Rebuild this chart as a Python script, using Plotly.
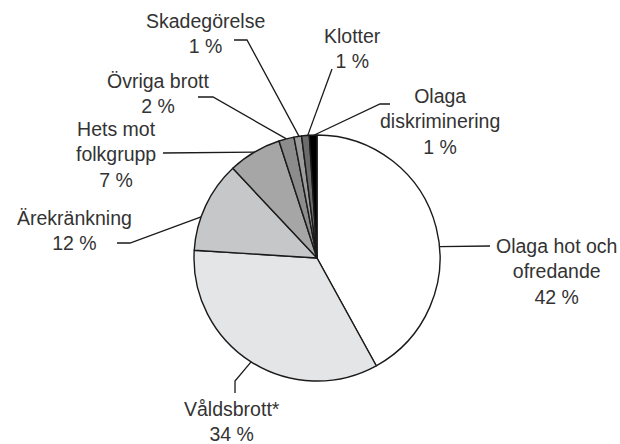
import math
import plotly.graph_objects as go

# ---- data ----
categories = ["Olaga hot och ofredande", "Våldsbrott*", "Ärekränkning",
              "Hets mot folkgrupp", "Övriga brott", "Skadegörelse",
              "Klotter", "Olaga diskriminering"]
values = [42, 34, 12, 7, 2, 1, 1, 1]
display_names = ["Olaga hot och<br>ofredande", "Våldsbrott*", "Ärekränkning",
                 "Hets mot<br>folkgrupp", "Övriga brott", "Skadegörelse",
                 "Klotter", "Olaga<br>diskriminering"]

# ---- styles / layout ----
colors = ["#ffffff", "#e4e5e6", "#c6c7c8", "#a6a6a6", "#8c8c8c",
          "#9c9c9c", "#6c6c6c", "#000000"]
W, H = 620, 444
CX, CY, R = 317, 258, 123
FONT = dict(family="Liberation Sans, Arial, sans-serif", size=19.5, color="#333333")
LINE_COLOR = "#1a1a1a"

# label block centre (x, y) in pixels, leader path points near label, fraction in slice
label_pos = [(556, 271), (232, 421), (74, 230), (116, 154), (158, 93),
             (205, 33), (352, 48), (440, 121)]
leader_pts = [[(490, 246)],
              [(235, 393), (235, 381)],
              [(117, 243), (130, 243)],
              [(163, 153)],
              [(198, 97), (213, 97)],
              [(234, 40), (247, 40)],
              [(332, 69)],
              [(390, 104), (380, 104)]]
slice_frac = [0.56, 0.5, 0.37, 0.5, 0.5, 0.67, 0.8, 0.65]

fig = go.Figure()
fig.add_trace(go.Pie(
    labels=categories, values=values, sort=False, direction="clockwise",
    rotation=0, textinfo="none", hoverinfo="label+percent",
    marker=dict(colors=colors, line=dict(color=LINE_COLOR, width=1.4)),
    domain=dict(x=[(CX - R) / W, (CX + R) / W],
                y=[1 - (CY + R) / H, 1 - (CY - R) / H]),
    showlegend=False,
))

total = sum(values)
cum = 0
annotations = []
for i, v in enumerate(values):
    ang = 2 * math.pi * (cum + slice_frac[i] * v) / total
    ex = CX + R * math.sin(ang)
    ey = CY - R * math.cos(ang)
    cum += v
    pts = leader_pts[i] + [(ex, ey)]
    fig.add_trace(go.Scatter(
        x=[p[0] for p in pts], y=[p[1] for p in pts], mode="lines",
        line=dict(color=LINE_COLOR, width=1.3), hoverinfo="skip",
        showlegend=False, xaxis="x", yaxis="y"))
    pct = round(100 * v / total)
    annotations.append(dict(
        x=label_pos[i][0], y=label_pos[i][1], xref="x", yref="y",
        text=f"{display_names[i]}<br>{pct} %", showarrow=False,
        xanchor="center", yanchor="middle", align="center", font=FONT))

fig.update_layout(
    width=W, height=H, margin=dict(l=0, r=0, t=0, b=0),
    paper_bgcolor="white", plot_bgcolor="rgba(0,0,0,0)",
    xaxis=dict(range=[0, W], visible=False, fixedrange=True, domain=[0, 1]),
    yaxis=dict(range=[H, 0], visible=False, fixedrange=True, domain=[0, 1]),
    annotations=annotations,
)
fig.write_html("out.html", config={"displayModeBar": False},
               post_script="document.body.style.margin='0';document.body.style.overflow='hidden';")
